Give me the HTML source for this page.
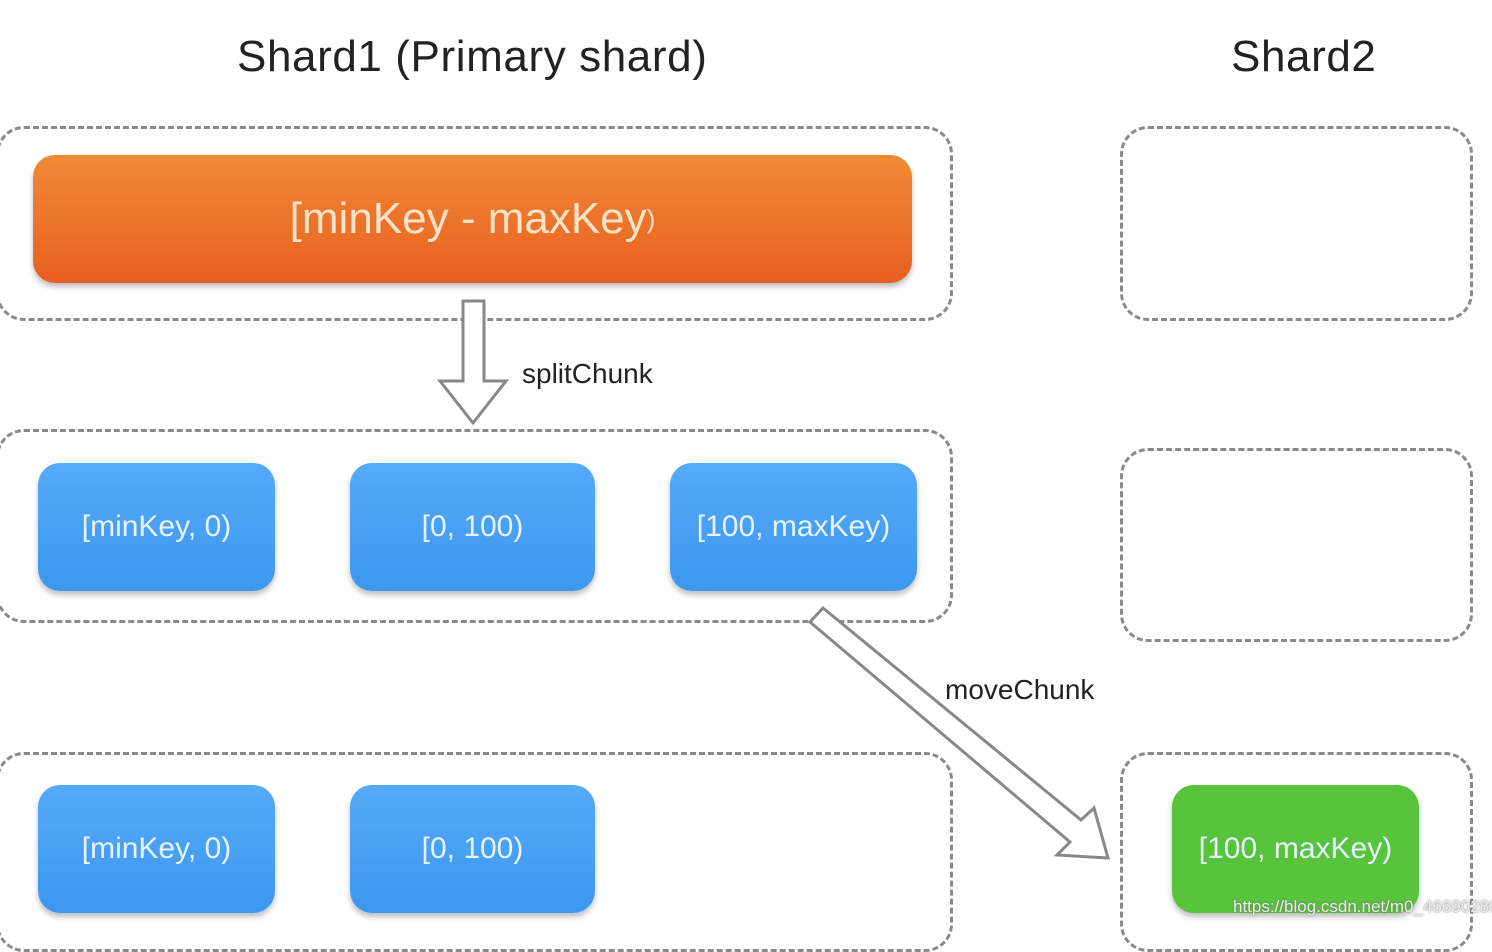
<!DOCTYPE html>
<html><head><meta charset="utf-8"><style>
html,body{margin:0;padding:0;background:#fff;}
body{width:1492px;height:926px;overflow:hidden;position:relative;font-family:"Liberation Sans",sans-serif;}
.t{position:absolute;color:#222;}
.box{position:absolute;border:3px dashed #8a8a8a;border-radius:28px;box-sizing:border-box;}
.n{position:absolute;border-radius:22px;color:#e8f2ff;font-size:30px;display:flex;align-items:center;justify-content:center;box-shadow:0 4px 6px rgba(0,0,0,0.25);}
.b{background:linear-gradient(#55aaf8,#3d97f0);}
</style></head><body>
<div class="t" style="left:237px;top:32px;font-size:44px;letter-spacing:0.6px;">Shard1 (Primary shard)</div>
<div class="t" style="left:1231px;top:32px;font-size:44px;letter-spacing:0.6px;">Shard2</div>

<div class="box" style="left:-4px;top:126px;width:957px;height:195px;"></div>
<div class="box" style="left:-4px;top:429px;width:957px;height:194px;"></div>
<div class="box" style="left:-4px;top:752px;width:957px;height:200px;"></div>
<div class="box" style="left:1120px;top:126px;width:353px;height:195px;"></div>
<div class="box" style="left:1120px;top:448px;width:353px;height:194px;"></div>
<div class="box" style="left:1120px;top:752px;width:353px;height:200px;"></div>

<div class="n" style="left:33px;top:155px;width:879px;height:128px;background:linear-gradient(#f08a35,#e85f22);color:#fbe3c8;font-size:44px;">[minKey - maxKey<span style="font-size:26px;">)</span></div>

<div class="n b" style="left:38px;top:463px;width:237px;height:128px;">[minKey, 0)</div>
<div class="n b" style="left:350px;top:463px;width:245px;height:128px;">[0, 100)</div>
<div class="n b" style="left:670px;top:463px;width:247px;height:128px;">[100, maxKey)</div>
<div class="n b" style="left:38px;top:785px;width:237px;height:128px;">[minKey, 0)</div>
<div class="n b" style="left:350px;top:785px;width:245px;height:128px;">[0, 100)</div>
<div class="n" style="left:1172px;top:785px;width:247px;height:128px;background:#58c43c;">[100, maxKey)</div>

<svg width="1492" height="926" style="position:absolute;left:0;top:0;">
<polygon points="463,301 484,301 484,381 506,381 473,423 440,381 463,381" fill="#fff" stroke="#888" stroke-width="3"/>
<polygon points="823,608 1081,820 1094,808 1108,858 1057,855 1070,842 810,622" fill="#fff" stroke="#888" stroke-width="3"/>
</svg>
<div class="t" style="left:522px;top:358px;font-size:28px;">splitChunk</div>
<div class="t" style="left:945px;top:674px;font-size:28px;">moveChunk</div>
<div class="t" style="left:1233px;top:897px;font-size:17px;color:#eee;text-shadow:0 0 2px #666;">https://blog.csdn.net/m0_46690280</div>
</body></html>
